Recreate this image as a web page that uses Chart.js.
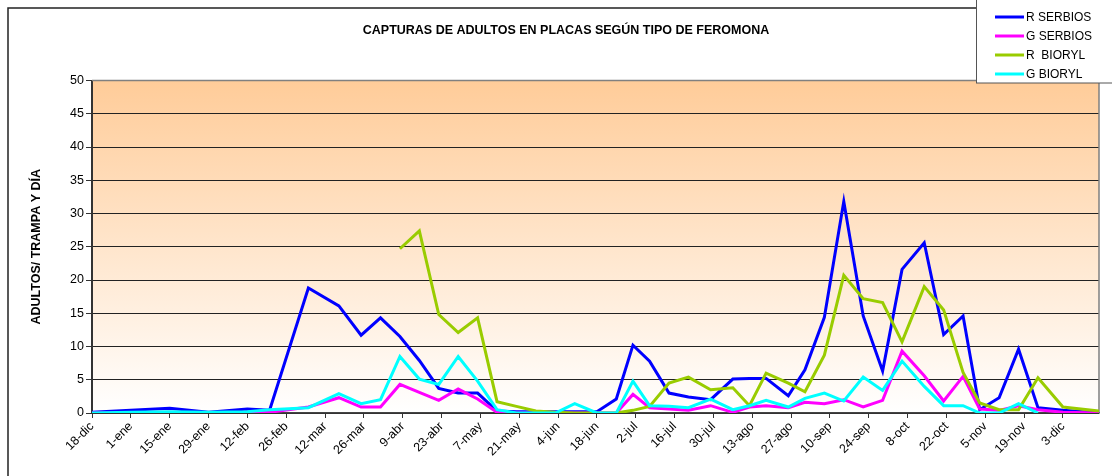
<!DOCTYPE html>
<html>
<head>
<meta charset="utf-8">
<title>Capturas de adultos en placas según tipo de feromona</title>
<script src="https://cdn.jsdelivr.net/npm/chart.js@4.4.1/dist/chart.umd.min.js"></script>
<style>
  html, body { margin: 0; padding: 0; background: #fff; }
  #wrap { width: 1112px; height: 476px; }
</style>
</head>
<body>
<div id="wrap"><canvas id="capturas" width="1112" height="476"></canvas></div>
<script>
// Sampling days, counted from 18-dic (start of the season)
const sampleDay = [0, 14, 28, 42, 56, 64, 78, 89, 97, 104, 111, 118, 125, 132, 139, 146, 153, 160, 167, 174,
    182, 189, 195, 201, 208, 215, 223, 231, 237, 243, 251, 257, 264, 271, 278, 285, 292, 300, 307, 314,
    320, 327, 334, 341, 350, 363];

// Tick labels, one every 14 days
const tickLabels = ['18-dic', '1-ene', '15-ene', '29-ene', '12-feb', '26-feb', '12-mar', '26-mar', '9-abr',
    '23-abr', '7-may', '21-may', '4-jun', '18-jun', '2-jul', '16-jul', '30-jul', '13-ago', '27-ago',
    '10-sep', '24-sep', '8-oct', '22-oct', '5-nov', '19-nov', '3-dic'];

// Adults per trap and day
const rSerbios = [0.1, 0.4, 0.7, 0.1, 0.6, 0.4, 18.8, 16.1, 11.7, 14.3, 11.5, 7.9, 3.7, 3.0, 3.0, 0.3, 0.2, 0.2, 0.2, 0.2,
    0.2, 2.1, 10.2, 7.8, 3.0, 2.4, 2.0, 5.1, 5.2, 5.2, 2.6, 6.5, 14.4, 31.8, 14.6, 6.3, 21.6, 25.6, 11.8, 14.6,
    0.5, 2.3, 9.6, 0.8, 0.4, 0.0];
const gSerbios = [0, 0, 0.1, 0, 0, 0.1, 0.9, 2.3, 0.9, 0.9, 4.3, 3.1, 1.9, 3.6, 2.1, 0.1, 0, 0, 0, 0,
    0, 0, 2.8, 0.8, 0.6, 0.4, 1.1, 0.1, 0.9, 1.1, 0.8, 1.6, 1.4, 2.0, 0.9, 1.9, 9.3, 5.6, 1.8, 5.5,
    0.6, 0.4, 1.1, 0.5, 0.1, 0];
const rBioryl = [null, null, null, null, null, null, null, null, null, null, 24.7, 27.4, 14.8, 12.1, 14.3, 1.7, 1.0, 0.3, 0.1, 0,
    0, 0, 0.4, 1.0, 4.5, 5.4, 3.5, 3.8, 1.1, 6.0, 4.5, 3.2, 8.7, 20.7, 17.2, 16.6, 10.7, 19.0, 15.5, 6.1,
    1.5, 0.5, 0.5, 5.3, 0.9, 0.3];
const gBioryl = [0, 0.1, 0.2, 0.1, 0.2, 0.5, 0.8, 2.9, 1.4, 2.0, 8.5, 5.1, 4.3, 8.5, 4.8, 0.5, 0, 0, 0, 1.4,
    0, 0, 4.8, 1.1, 1.0, 0.8, 2.1, 0.5, 1.1, 1.9, 0.9, 2.2, 3.0, 1.8, 5.4, 3.4, 7.8, 4.0, 1.1, 1.1,
    0, 0, 1.4, 0, null, null];

const seriesNames = ['R SERBIOS', 'G SERBIOS', 'R  BIORYL', 'G BIORYL'];
const seriesColors = ['#0000FF', '#FF00FF', '#99CC00', '#00FFFF'];
const seriesValues = [rSerbios, gSerbios, rBioryl, gBioryl];

Chart.defaults.font.family = '"Liberation Sans", Arial, sans-serif';
Chart.defaults.color = '#000';

// Background gradient, frames and the boxed legend
const chartFrame = {
    id: 'chartFrame',
    beforeDraw(chart) {
        const { ctx, chartArea: a } = chart;
        ctx.save();
        ctx.strokeStyle = '#222';
        ctx.lineWidth = 1.5;
        ctx.strokeRect(8, 8, 1200, 600);

        const grad = ctx.createLinearGradient(0, a.top, 0, a.bottom);
        grad.addColorStop(0, '#FFCC99');
        grad.addColorStop(1, '#FFFFFF');
        ctx.fillStyle = grad;
        ctx.fillRect(a.left, a.top, a.width, a.height);
        ctx.restore();
    },
    beforeDatasetsDraw(chart) {
        const { ctx, chartArea: a } = chart;
        ctx.save();
        ctx.strokeStyle = '#808080';
        ctx.lineWidth = 1.5;
        ctx.beginPath();
        ctx.moveTo(a.left, a.top);
        ctx.lineTo(a.right, a.top);
        ctx.lineTo(a.right, a.bottom);
        ctx.stroke();
        ctx.restore();
    },
    afterDraw(chart) {
        const ctx = chart.ctx;
        ctx.save();
        ctx.fillStyle = '#fff';
        ctx.fillRect(976, -2, 150, 85);
        ctx.strokeStyle = '#555';
        ctx.lineWidth = 1;
        ctx.strokeRect(976.5, -2, 150, 85);
        ctx.font = '12px "Liberation Sans", Arial, sans-serif';
        ctx.textBaseline = 'middle';
        chart.data.datasets.forEach((ds, i) => {
            const y = 17 + i * 19;
            ctx.strokeStyle = ds.borderColor;
            ctx.lineWidth = 3;
            ctx.beginPath();
            ctx.moveTo(995, y);
            ctx.lineTo(1024, y);
            ctx.stroke();
            ctx.fillStyle = '#000';
            ctx.fillText(ds.label, 1026, y + 1);
        });
        ctx.restore();
    }
};

const datasets = seriesNames.map((name, i) => ({
    label: name,
    data: sampleDay.map((d, j) => ({ x: d, y: seriesValues[i][j] })),
    borderColor: seriesColors[i],
    backgroundColor: seriesColors[i],
    borderWidth: 3,
    pointRadius: 0,
    tension: 0,
    order: seriesNames.length - i
}));

new Chart(document.getElementById('capturas'), {
    type: 'line',
    data: { datasets },
    options: {
        responsive: false,
        animation: false,
        devicePixelRatio: 1,
        layout: { padding: { left: 33, right: 13, top: 0, bottom: 0 } },
        plugins: {
            legend: { display: false },
            tooltip: { enabled: false },
            title: {
                display: true,
                text: 'CAPTURAS DE ADULTOS EN PLACAS SEGÚN TIPO DE FEROMONA',
                font: { size: 12.5, weight: 'bold' },
                color: '#000',
                padding: { top: 23, bottom: 42.5 }
            }
        },
        scales: {
            x: {
                type: 'linear',
                min: 0,
                max: 363,
                afterBuildTicks: scale => {
                    scale.ticks = scale.ticks.filter(t => t.value % 14 === 0);
                },
                afterFit: scale => { scale.height = 63; },
                ticks: {
                    stepSize: 14,
                    autoSkip: false,
                    minRotation: 45,
                    maxRotation: 45,
                    padding: 1,
                    font: { size: 12.5 },
                    callback: v => tickLabels[v / 14]
                },
                grid: {
                    drawOnChartArea: false,
                    drawTicks: true,
                    tickLength: 5,
                    tickColor: '#333'
                },
                border: { color: '#444', width: 1.5 }
            },
            y: {
                min: 0,
                max: 50,
                afterFit: scale => { scale.width = 59; },
                ticks: {
                    stepSize: 5,
                    padding: 2,
                    font: { size: 12.5 }
                },
                grid: {
                    color: '#222',
                    lineWidth: 1,
                    tickLength: 6,
                    tickColor: '#333'
                },
                border: { color: '#333', width: 2 },
                title: {
                    display: true,
                    text: 'ADULTOS/ TRAMPA Y DÍA',
                    font: { size: 12.5, weight: 'bold' },
                    color: '#000',
                    padding: { top: -4, bottom: 0 }
                }
            }
        }
    },
    plugins: [chartFrame]
});
</script>
</body>
</html>
